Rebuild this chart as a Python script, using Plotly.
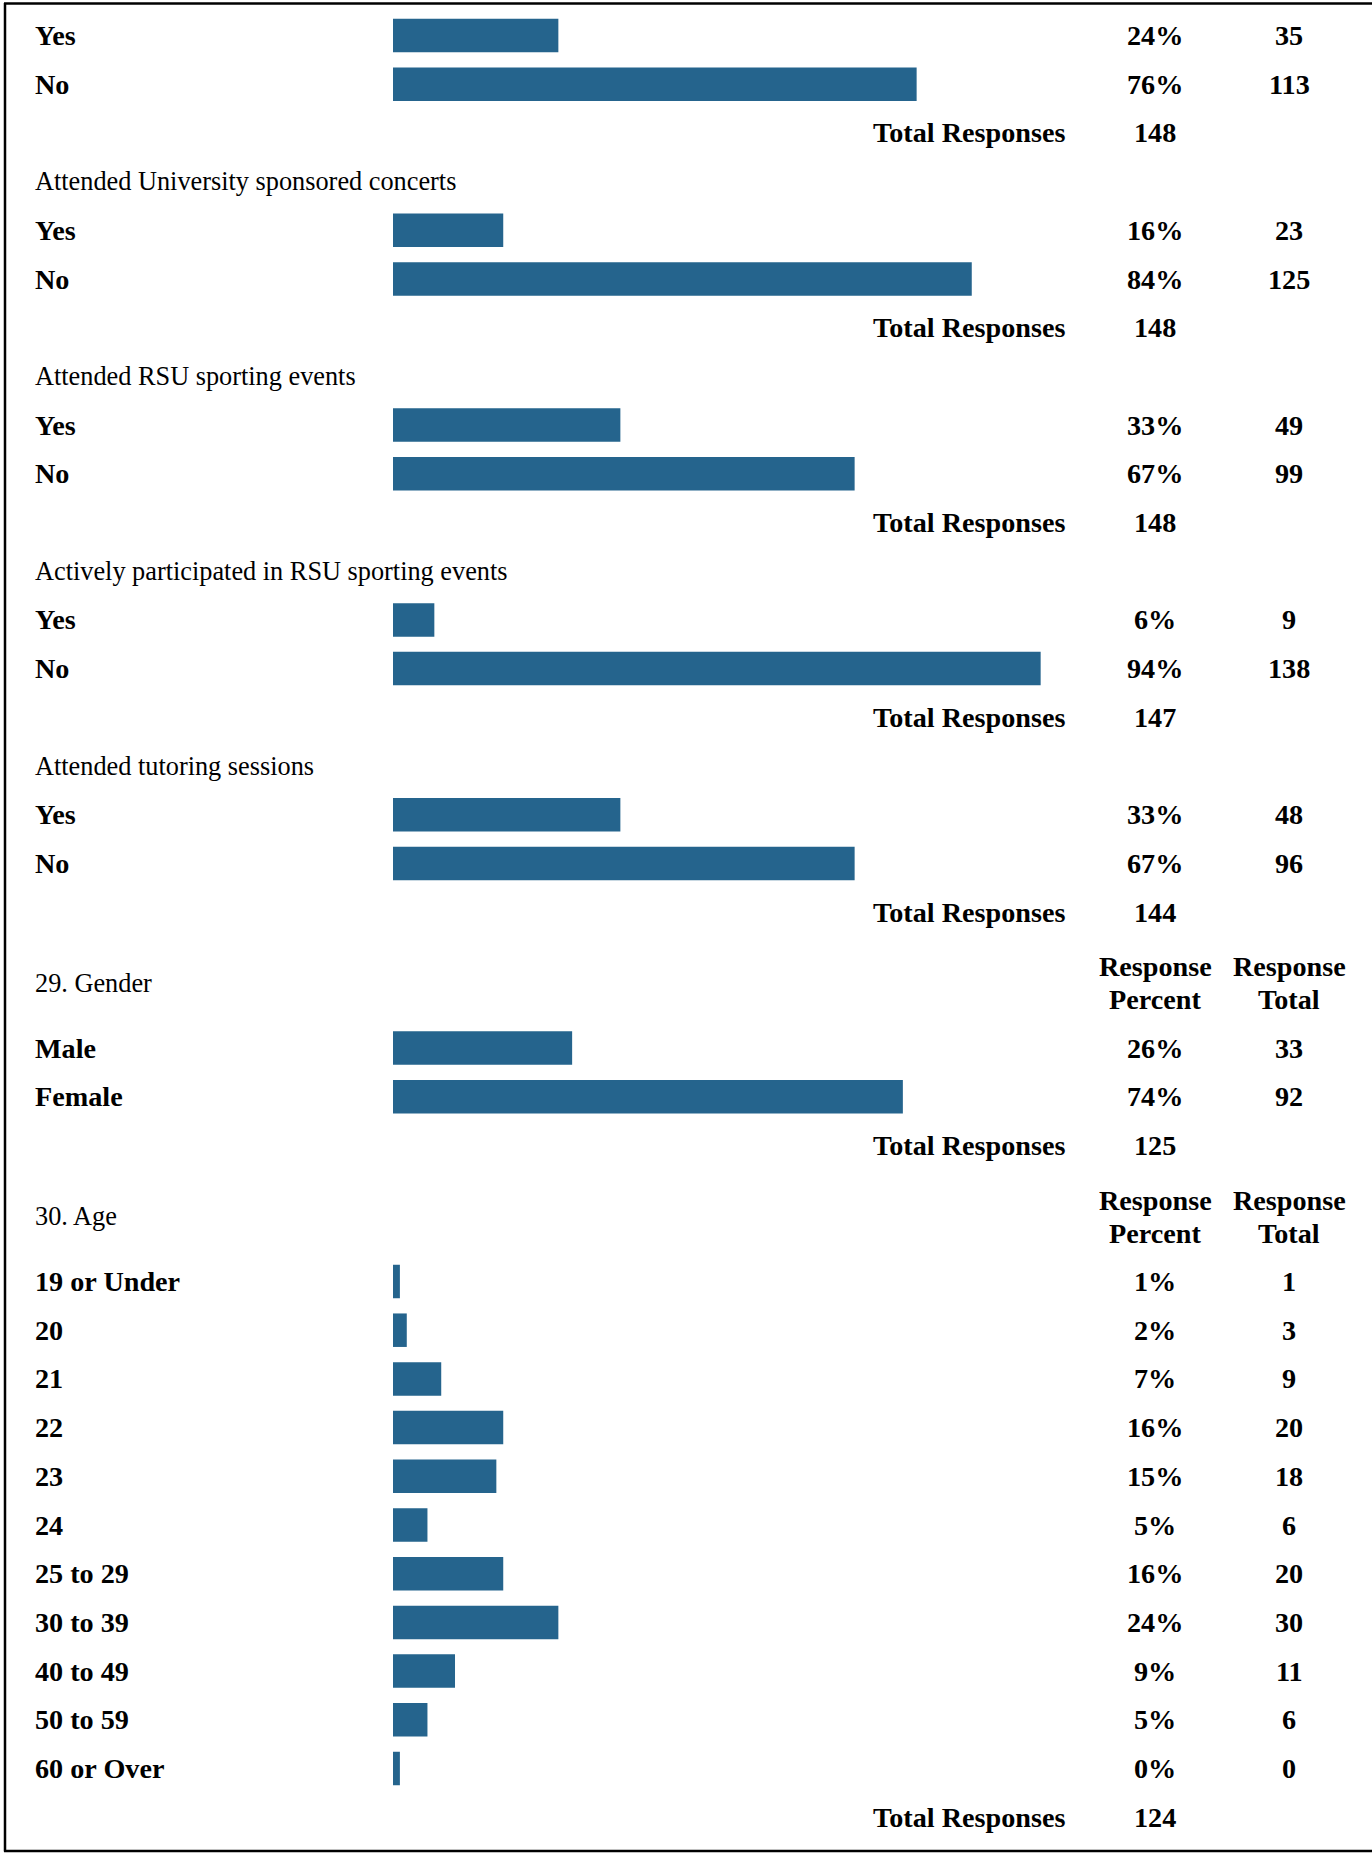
import plotly.graph_objects as go

# ---------------- data ----------------
yn_labels = ["Yes", "No"]

q_titles = [None,
            "Attended University sponsored concerts",
            "Attended RSU sporting events",
            "Actively participated in RSU sporting events",
            "Attended tutoring sessions"]
q1_pct = [24, 76]
q1_count = [35, 113]
q2_pct = [16, 84]
q2_count = [23, 125]
q3_pct = [33, 67]
q3_count = [49, 99]
q4_pct = [6, 94]
q4_count = [9, 138]
q5_pct = [33, 67]
q5_count = [48, 96]
yn_totals = [148, 148, 148, 147, 144]

gender_title = "29. Gender"
gender_labels = ["Male", "Female"]
gender_pct = [26, 74]
gender_count = [33, 92]
gender_total = 125

age_title = "30. Age"
age_labels = ["19 or Under", "20", "21", "22", "23", "24", "25 to 29",
              "30 to 39", "40 to 49", "50 to 59", "60 or Over"]
age_pct = [1, 2, 7, 16, 15, 5, 16, 24, 9, 5, 0]
age_count = [1, 3, 9, 20, 18, 6, 20, 30, 11, 6, 0]
age_total = 124

# ---------------- layout constants ----------------
W, H = 1372, 1853
FONT = "Liberation Serif"
FS_B = 28.2
FS_R = 26.3
BAR_COLOR = "#25648D"
STEP = 48.7
Y0 = 35.5
GAP_BEFORE_HDR = 71
GAP_AFTER_HDR = 65
BAR_H = 33.5
X_LABEL = 33
X_PCT = 1155
X_CNT = 1289
X_TOT_RIGHT = 1067
MIN_BAR = 1  # minimum visible stub (in percent) like the original report

ann = []
bars = {"x": ([], [], []), "x2": ([], [], [])}


def text(x, y, s, bold=False, anchor="center"):
    ann.append(dict(x=x / W, y=y, xref="paper", yref="y",
                    text=f"<b>{s}</b>" if bold else s,
                    showarrow=False, xanchor=anchor, yanchor="middle",
                    font=dict(family=FONT, size=FS_B if bold else FS_R, color="black")))


def rows(labels, pct, count, total, first_y, axis):
    ys = [first_y + i * STEP for i in range(len(labels))]
    bx, by, bl = bars[axis]
    for lab, p, c, y in zip(labels, pct, count, ys):
        bx.append(max(p, MIN_BAR))
        by.append(y)
        bl.append(lab)
        text(X_LABEL, y, lab, bold=True, anchor="left")
        text(X_PCT, y, f"{p}%", bold=True)
        text(X_CNT, y, f"{c}", bold=True)
    ty = ys[-1] + STEP
    text(X_TOT_RIGHT, ty, "Total Responses", bold=True, anchor="right")
    text(X_PCT, ty, f"{total}", bold=True)
    return ty


# yes / no questions
yn_pcts = [q1_pct, q2_pct, q3_pct, q4_pct, q5_pct]
yn_counts = [q1_count, q2_count, q3_count, q4_count, q5_count]
title_y = Y0 - STEP
last = title_y
for title, p, c, tot in zip(q_titles, yn_pcts, yn_counts, yn_totals):
    if title:
        text(X_LABEL, title_y, title, anchor="left")
    last = rows(yn_labels, p, c, tot, title_y + STEP, "x")
    title_y = last + STEP


def header(y, title):
    text(X_LABEL, y, title, anchor="left")
    text(X_PCT, y - 16.5, "Response", bold=True)
    text(X_PCT, y + 16.5, "Percent", bold=True)
    text(X_CNT, y - 16.5, "Response", bold=True)
    text(X_CNT, y + 16.5, "Total", bold=True)


gy = last + GAP_BEFORE_HDR
header(gy, gender_title)
last = rows(gender_labels, gender_pct, gender_count, gender_total, gy + GAP_AFTER_HDR, "x2")

ay = last + GAP_BEFORE_HDR
header(ay, age_title)
rows(age_labels, age_pct, age_count, age_total, ay + GAP_AFTER_HDR, "x2")

fig = go.Figure()
for axis, (bx, by, bl) in bars.items():
    fig.add_trace(go.Bar(x=bx, y=by, orientation="h", width=BAR_H, xaxis=axis, yaxis="y",
                         marker=dict(color=BAR_COLOR, line=dict(width=0)),
                         hovertext=bl, hoverinfo="text", showlegend=False))

# border (top, left, bottom; open on the right)
shapes = [
    dict(type="line", xref="paper", yref="paper", x0=4 / W, x1=1, y0=1 - 3.5 / H, y1=1 - 3.5 / H,
         line=dict(color="black", width=2.5)),
    dict(type="line", xref="paper", yref="paper", x0=5 / W, x1=5 / W, y0=1 - 3 / H, y1=1 - 1851.5 / H,
         line=dict(color="black", width=2.5)),
    dict(type="line", xref="paper", yref="paper", x0=4 / W, x1=1, y0=1 - 1851 / H, y1=1 - 1851 / H,
         line=dict(color="black", width=2.5)),
]

fig.update_layout(
    width=W, height=H, margin=dict(l=0, r=0, t=0, b=0),
    paper_bgcolor="white", plot_bgcolor="white",
    xaxis=dict(domain=[393 / W, (393 + 689) / W], range=[0, 100], visible=False,
               fixedrange=True, anchor="y"),
    xaxis2=dict(domain=[395.5 / W, (395.5 + 686) / W], range=[0, 100], visible=False,
                fixedrange=True, anchor="y", overlaying="x"),
    yaxis=dict(domain=[0, 1], range=[H, 0], visible=False, fixedrange=True, anchor="x"),
    annotations=ann, shapes=shapes, barmode="overlay", showlegend=False,
)

fig.write_html("out.html", config={"displayModeBar": False},
               post_script="document.body.style.margin='0';")
